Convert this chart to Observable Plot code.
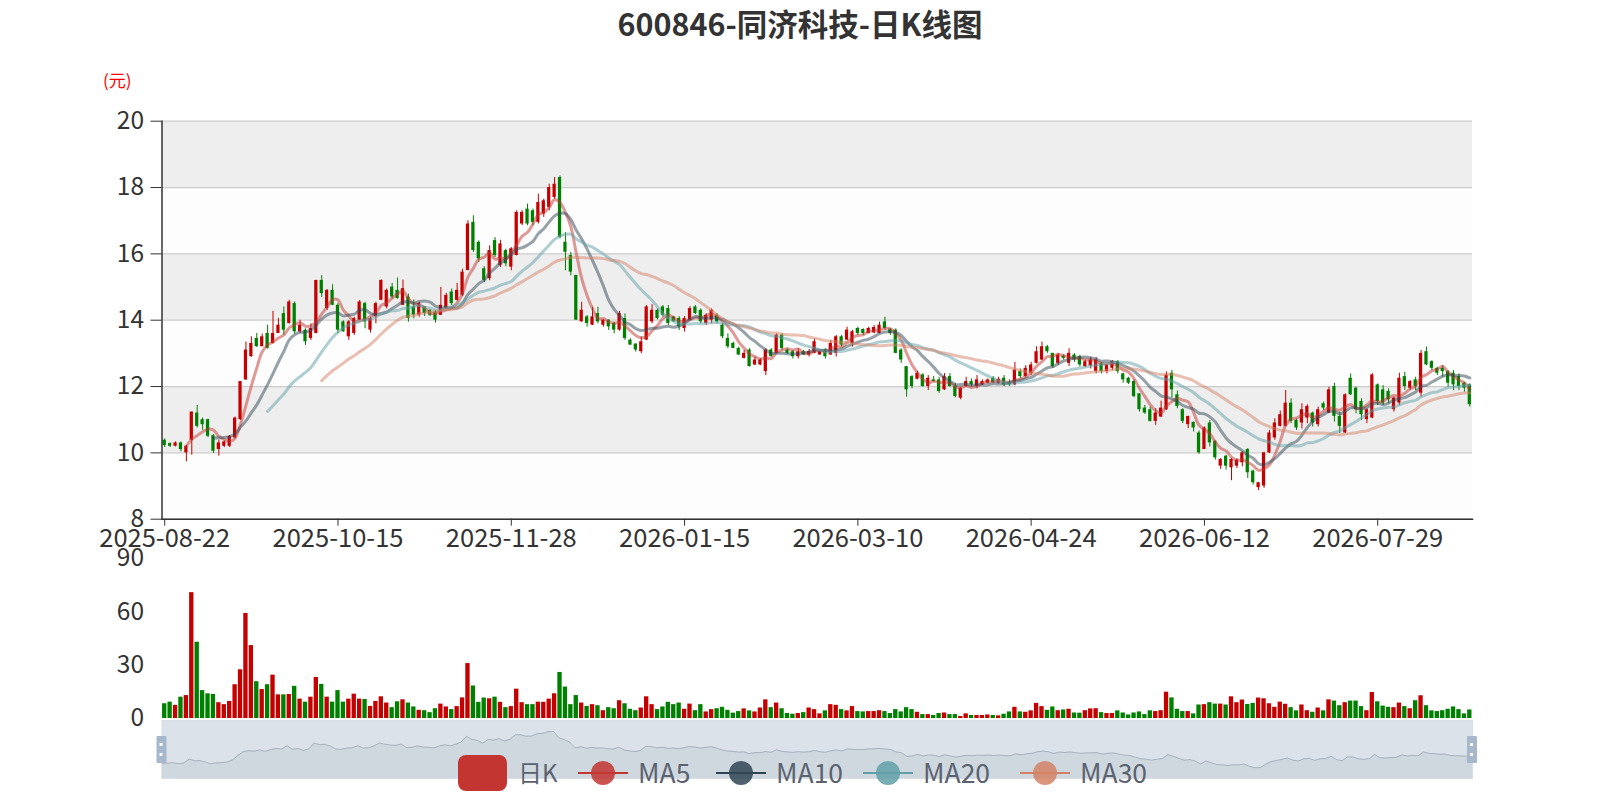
<!DOCTYPE html>
<html><head><meta charset="utf-8">
<script src="https://cdn.jsdelivr.net/npm/d3@7"></script>
<script src="https://cdn.jsdelivr.net/npm/@observablehq/plot@0.6"></script>
<style>
body{margin:0;background:#fff;}
#wrap{position:relative;width:1600px;height:800px;overflow:hidden;font-family:"Noto Sans CJK SC","Noto Sans",sans-serif;}
#wrap > *{position:absolute;}
</style></head><body><div id="wrap"></div>
<script>
const title = "600846-同济科技-日K线图";
const unitLabel = "(元)";
const tickLabels = ["2025-08-22","2025-10-15","2025-11-28","2026-01-15","2026-03-10","2026-04-24","2026-06-12","2026-07-29"];
const tickEvery = 32;
const priceTicks = [8,10,12,14,16,18,20];
const volumeTicks = [0,30,60,90];
const seriesNames = ["日K","MA5","MA10","MA20","MA30"];
const maPeriods = [5,10,20,30];
const maColors = ["#c23531","#2f4554","#61a0a8","#d48265"];

// [open, close, low, high]
const ohlc = [
[10.38,10.22,10.16,10.42],[10.28,10.2,10.16,10.3],[10.2,10.3,10.18,10.33],[10.3,10.1,10.03,10.33],[10.0,10.2,9.73,10.22],
[10.38,11.23,9.93,11.23],[11.2,10.8,10.75,11.43],[11.0,10.85,10.68,11.05],[11.0,10.5,10.46,11.02],[10.52,10.05,9.98,10.55],
[10.1,10.3,9.9,10.38],[10.2,10.33,10.16,10.36],[10.2,10.5,10.16,10.52],[10.45,11.05,10.42,11.08],[11.0,12.15,10.98,12.15],
[12.2,13.1,12.18,13.34],[12.9,13.3,12.88,13.5],[13.45,13.2,13.18,13.6],[13.2,13.5,13.2,13.58],[13.6,13.15,13.13,13.85],
[13.3,13.6,13.28,14.27],[13.6,13.85,13.6,14.05],[14.2,13.7,13.55,14.4],[13.9,14.55,13.88,14.6],[14.5,13.65,13.58,14.55],
[13.65,13.85,13.6,14.0],[13.7,13.35,13.24,13.74],[13.45,13.75,13.39,13.89],[13.6,15.2,13.59,15.2],[15.2,14.8,14.69,15.34],
[14.35,14.9,14.29,14.92],[14.9,14.45,14.44,15.07],[14.45,13.7,13.59,14.5],[13.95,13.65,13.64,13.98],[13.5,13.95,13.39,13.99],
[13.6,14.05,13.54,14.09],[14.0,14.55,13.99,14.59],[14.5,13.95,13.74,14.54],[13.7,14.05,13.61,14.09],[14.1,14.5,13.89,14.54],
[14.6,15.2,14.59,15.21],[14.4,14.9,14.34,14.94],[15.0,14.7,14.64,15.11],[14.9,14.65,14.64,15.27],[14.45,14.95,14.44,15.21],
[14.7,14.05,13.94,14.79],[14.4,14.15,14.04,14.61],[14.15,14.5,14.09,14.54],[14.4,14.2,14.11,14.41],[14.3,14.15,14.11,14.31],
[14.25,14.0,13.91,14.29],[14.15,14.45,14.14,14.99],[14.35,14.75,14.34,14.81],[14.85,14.5,14.44,14.94],[14.6,14.9,14.57,15.11],
[14.75,15.45,14.71,15.54],[15.5,16.9,15.49,17.0],[16.95,16.1,16.04,17.15],[16.35,15.85,15.74,16.39],[15.55,15.2,15.14,15.61],
[15.25,16.1,15.19,16.24],[16.4,15.95,15.89,16.49],[15.65,16.3,15.59,16.41],[16.1,15.7,15.61,16.14],[15.6,16.15,15.49,16.19],
[15.95,17.25,15.94,17.3],[16.9,17.25,16.85,17.3],[17.35,16.9,16.85,17.5],[17.3,16.95,16.85,17.35],[16.95,17.55,16.9,17.8],
[17.2,17.6,17.1,17.65],[17.4,18.0,17.3,18.1],[17.7,18.1,17.65,18.3],[18.3,16.5,16.45,18.35],[16.35,16.05,15.49,16.64],
[15.95,15.45,15.34,16.04],[15.35,14.0,14.0,15.35],[13.95,14.3,13.94,14.54],[14.1,13.9,13.79,14.14],[13.85,14.1,13.84,14.39],
[14.2,13.95,13.89,14.39],[13.85,14.0,13.79,14.01],[14.0,13.8,13.69,14.01],[13.9,13.7,13.59,13.94],[13.7,14.2,13.67,14.27],
[14.05,13.45,13.39,14.19],[13.4,13.25,13.24,13.44],[13.28,13.1,13.04,13.29],[13.05,13.35,12.99,13.49],[13.4,14.4,13.39,14.44],
[13.95,14.3,13.89,14.47],[14.3,14.05,14.01,14.34],[14.4,14.15,14.09,14.44],[14.35,13.9,13.84,14.44],[14.1,13.95,13.94,14.11],
[14.05,13.8,13.69,14.11],[13.75,14.05,13.64,14.11],[14.0,14.35,14.0,14.41],[14.4,14.2,14.17,14.44],[14.3,13.95,13.89,14.34],
[13.9,14.15,13.84,14.19],[14.0,14.3,13.89,14.34],[14.15,13.95,13.89,14.19],[13.85,13.5,13.44,13.89],[13.45,13.2,13.14,13.59],
[13.3,13.15,13.14,13.34],[13.15,12.95,12.94,13.19],[12.85,13.0,12.83,13.09],[13.1,12.6,12.59,13.14],[12.65,12.8,12.63,12.89],
[12.65,12.8,12.63,12.84],[12.45,13.1,12.33,13.14],[13.1,12.9,12.89,13.14],[13.0,13.55,12.99,13.59],[13.55,13.15,13.09,13.59],
[13.1,13.0,12.97,13.14],[13.05,12.9,12.83,13.09],[12.9,13.05,12.83,13.14],[13.05,12.95,12.94,13.09],[12.95,13.05,12.89,13.11],
[13.0,13.35,12.99,13.44],[12.95,13.05,12.94,13.09],[13.1,12.9,12.83,13.14],[12.95,13.3,12.94,13.39],[13.0,13.5,12.89,13.54],
[13.5,13.25,13.19,13.54],[13.4,13.7,13.39,13.79],[13.3,13.65,13.19,13.69],[13.75,13.6,13.54,13.79],[13.72,13.6,13.54,13.74],
[13.6,13.75,13.59,13.79],[13.62,13.78,13.59,13.84],[13.6,13.85,13.59,13.94],[13.95,13.75,13.71,14.09],[13.73,13.6,13.54,13.74],
[13.7,13.0,12.99,13.74],[13.1,12.8,12.7,13.14],[12.6,11.9,11.68,12.6],[12.3,12.0,11.93,12.33],[12.22,12.4,12.2,12.46],
[12.35,12.0,11.98,12.39],[12.0,12.25,11.88,12.33],[12.2,12.15,12.13,12.3],[12.2,11.85,11.8,12.28],[11.9,12.3,11.88,12.39],
[12.3,12.0,11.98,12.39],[12.0,11.7,11.66,12.1],[11.65,11.95,11.6,11.98],[12.0,12.15,11.98,12.28],[12.15,12.05,11.98,12.23],
[12.0,12.2,11.93,12.33],[12.05,12.15,12.03,12.2],[12.1,12.2,12.08,12.23],[12.25,12.12,12.1,12.3],[12.1,12.22,12.07,12.28],
[12.25,12.05,12.0,12.33],[12.12,12.05,12.0,12.2],[12.05,12.5,12.03,12.73],[12.45,12.3,12.23,12.53],[12.3,12.55,12.28,12.63],
[12.4,12.65,12.33,12.73],[12.7,13.05,12.68,13.2],[12.8,13.2,12.78,13.34],[13.2,13.05,13.0,13.24],[13.0,12.6,12.54,13.0],
[12.7,12.95,12.63,13.0],[12.92,12.85,12.8,12.95],[12.7,13.0,12.6,13.14],[12.95,12.8,12.73,12.99],[12.9,12.65,12.59,12.94],
[12.6,12.75,12.57,12.8],[12.62,12.8,12.53,12.88],[12.45,12.8,12.38,12.88],[12.7,12.45,12.38,12.72],[12.45,12.65,12.38,12.66],
[12.55,12.75,12.48,12.78],[12.75,12.45,12.38,12.78],[12.38,12.2,12.1,12.4],[12.25,12.1,12.06,12.28],[12.15,11.7,11.66,12.2],
[11.78,11.3,11.23,11.78],[11.35,11.2,11.16,11.43],[11.3,10.95,10.93,11.38],[10.95,11.2,10.83,11.33],[11.08,11.35,11.06,11.56],
[11.3,12.35,11.28,12.44],[12.4,11.9,11.66,12.49],[11.75,11.4,11.33,11.86],[11.3,10.95,10.88,11.33],[10.85,11.1,10.73,11.1],
[10.92,10.75,10.63,10.93],[10.6,10.0,9.96,10.66],[10.1,10.75,10.1,10.78],[10.9,10.3,10.18,10.98],[10.35,9.85,9.78,10.36],
[9.6,9.8,9.5,9.83],[9.9,9.6,9.48,9.93],[9.55,9.8,9.16,9.83],[9.6,9.78,9.53,9.83],[9.7,10.0,9.58,10.03],
[10.1,9.4,9.23,10.13],[9.45,9.1,9.03,9.48],[8.95,9.1,8.86,9.1],[9.0,10.0,8.93,10.02],[10.0,10.6,9.98,10.68],
[10.45,10.9,10.38,11.03],[10.8,11.15,10.78,11.26],[10.8,11.5,10.78,11.88],[11.5,10.95,10.88,11.63],[10.98,10.75,10.68,11.02],
[10.9,11.3,10.72,11.48],[11.05,11.4,10.88,11.45],[11.2,10.9,10.78,11.23],[10.85,11.3,10.78,11.38],[11.48,11.35,11.28,11.53],
[11.2,11.9,11.18,11.98],[12.0,11.1,10.93,12.1],[11.1,10.8,10.58,11.23],[10.6,11.75,10.58,11.78],[12.25,11.75,11.73,12.38],
[11.95,11.3,11.18,11.98],[11.55,11.15,10.98,11.63],[11.0,11.3,10.88,11.33],[11.05,12.35,11.03,12.39],[12.05,11.55,11.43,12.08],
[11.9,11.5,11.43,12.03],[11.85,11.6,11.48,11.93],[11.3,11.65,11.23,11.68],[11.5,12.25,11.43,12.4],[12.3,12.0,11.88,12.43],
[11.95,12.15,11.88,12.18],[12.2,12.0,11.88,12.28],[11.8,13.0,11.68,13.09],[13.05,12.65,12.63,13.19],[12.75,12.55,12.48,12.78],
[12.55,12.4,12.33,12.58],[12.55,12.45,12.28,12.63],[12.45,12.1,11.98,12.48],[12.4,12.05,11.88,12.48],[12.3,12.0,11.88,12.38],
[12.1,11.95,11.83,12.13],[12.05,11.45,11.38,12.08]
];

const volume = [
8.3,9.2,7.4,12.0,12.9,70.8,42.9,15.7,13.9,13.5,
8.9,7.8,9.6,19.0,27.4,59.1,41.0,20.7,16.3,19.0,
24.4,13.3,13.3,13.5,18.1,10.9,9.2,12.0,23.1,19.2,
12.0,9.2,15.7,9.2,10.9,13.7,10.9,10.7,6.8,9.6,
12.2,8.7,6.1,9.4,10.5,8.7,6.5,4.6,4.4,3.3,
5.5,8.1,6.5,5.0,6.7,11.6,30.9,18.3,9.1,11.5,
11.1,12.0,9.1,6.1,6.7,16.5,8.9,7.8,7.8,9.2,
9.1,10.9,13.9,25.9,17.7,7.8,12.9,8.7,6.8,7.8,
7.2,4.4,6.1,5.5,10.0,8.3,5.2,4.4,5.9,12.2,
7.8,5.0,6.5,9.1,7.8,8.7,5.2,8.1,4.4,7.8,
3.7,5.0,5.5,6.3,4.6,3.0,3.9,5.4,4.3,3.7,
5.9,10.5,6.1,8.7,5.5,2.8,2.4,2.8,3.3,5.9,
5.0,2.6,4.3,7.8,7.4,5.0,4.3,6.7,3.9,3.7,
3.9,3.9,4.4,3.9,2.8,5.0,3.7,6.1,5.0,3.5,
2.2,2.2,1.7,2.8,3.1,2.2,2.2,1.1,2.6,1.7,
1.7,1.7,2.0,1.7,1.5,2.4,3.7,6.3,3.7,3.5,
4.3,8.5,6.7,4.6,6.5,4.4,4.8,5.2,3.1,3.0,
4.4,5.4,5.5,3.3,2.8,2.8,4.3,3.1,2.0,3.1,
3.7,2.2,4.3,3.9,4.4,14.8,11.6,5.2,3.9,3.9,
2.6,7.6,7.8,8.9,8.1,8.1,7.6,12.2,8.9,10.4,
7.9,8.5,11.5,11.1,8.3,6.3,9.2,8.0,6.1,4.3,
7.6,4.4,3.5,5.9,4.3,10.5,9.8,7.2,8.9,9.8,
9.8,6.7,4.4,14.6,9.4,7.0,6.3,6.1,8.7,6.7,
5.5,10.0,12.8,7.2,4.3,3.9,4.4,5.2,6.5,5.0,
2.6,4.8
];

const upColor = "#c40000", downColor = "#008000";
const font = '"Noto Sans CJK SC","Noto Sans",sans-serif';
const W = 1600, L = 161.5, R = 128;

const rows = ohlc.map(([o, c, l, h], i) => ({i, o, c, l, h, v: volume[i], up: c >= o}));
const N = rows.length;
const idx = d3.range(N);
const tickIdx = tickLabels.map((_, k) => k * tickEvery);
const maSeries = maPeriods.map(p => rows.slice(p - 1).map(r => ({i: r.i, v: d3.mean(rows.slice(r.i - p + 1, r.i + 1), d => d.c)})));
const bandPairs = priceTicks.slice(0, -1).map((t, k) => ({y1: t, y2: priceTicks[k + 1], odd: k % 2 === 1}));

const wrap = document.getElementById("wrap");

// title
const t = document.createElement("div");
t.textContent = title;
Object.assign(t.style, {left: "0px", top: "1px", width: "1600px", textAlign: "center", fontSize: "30.5px", fontWeight: "bold", color: "#333"});
wrap.appendChild(t);
const u = document.createElement("div");
u.textContent = unitLabel;
Object.assign(u.style, {left: "103px", top: "67px", fontSize: "17px", color: "#ff0000"});
wrap.appendChild(u);

// main candlestick chart
const main = Plot.plot({
  width: W, height: 560, marginLeft: L, marginRight: R, marginTop: 120.7, marginBottom: 41.3,
  style: {fontFamily: font, fontSize: "24px", color: "#333", background: "transparent", overflow: "visible"},
  x: {type: "band", domain: idx, paddingInner: 0.4, paddingOuter: 0.2},
  y: {domain: [8, 20]},
  marks: [
    Plot.rect(bandPairs, {y1: "y1", y2: "y2", fill: d => d.odd ? "#eeeeee" : "#fdfdfd"}),
    Plot.ruleY(priceTicks, {stroke: "#cccccc", strokeWidth: 1.2}),
    Plot.ruleX(rows, {x: "i", y1: "l", y2: "h", stroke: d => d.up ? upColor : downColor, strokeWidth: 1}),
    Plot.barY(rows, {x: "i", y1: "o", y2: "c", fill: d => d.up ? upColor : downColor}),
    ...maSeries.map((s, k) => Plot.line(s, {x: "i", y: "v", stroke: maColors[k], strokeWidth: 3, strokeOpacity: 0.5, curve: "catmull-rom"})),
    Plot.axisY({ticks: priceTicks, tickSize: 11, tickPadding: 7, fontSize: 24.5, stroke: "#333", label: null}),
    Plot.axisX({ticks: tickIdx, tickFormat: d => tickLabels[d / tickEvery], tickSize: 7, tickPadding: 3, fontSize: 25.5, stroke: "#333", label: null}),
    Plot.frame({anchor: "left", stroke: "#333", strokeWidth: 1.5}),
    Plot.frame({anchor: "bottom", stroke: "#333", strokeWidth: 1.5})
  ]
});
main.style.left = "0px"; main.style.top = "0px";
wrap.appendChild(main);

// volume chart
const vol = Plot.plot({
  width: W, height: 180, marginLeft: L, marginRight: R, marginTop: 18, marginBottom: 2,
  style: {fontFamily: font, fontSize: "24px", color: "#333", background: "transparent", overflow: "visible"},
  x: {type: "band", domain: idx, paddingInner: 0.2, paddingOuter: 0.1, axis: null},
  y: {domain: [0, 90]},
  marks: [
    Plot.barY(rows, {x: "i", y: "v", fill: d => d.up ? upColor : downColor}),
    Plot.axisY({ticks: volumeTicks, tickSize: 0, tickPadding: 18, fontSize: 24.5, label: null})
  ]
});
vol.style.left = "0px"; vol.style.top = "540px";
wrap.appendChild(vol);

// data zoom slider
const closeExtent = d3.extent(rows, d => d.c);
const pad = (closeExtent[1] - closeExtent[0]) * 0.3;
const slider = Plot.plot({
  width: W, height: 60, marginLeft: L, marginRight: R, marginTop: 0, marginBottom: 2,
  style: {background: "transparent", overflow: "visible"},
  x: {domain: [0, N - 1], axis: null},
  y: {domain: [closeExtent[0] - pad, closeExtent[1] + pad], axis: null},
  marks: [
    Plot.frame({fill: "rgba(167,183,203,0.4)", stroke: "#d8dde6"}),
    Plot.areaY(rows, {x: "i", y1: closeExtent[0] - pad, y2: "c", fill: "#2f4554", fillOpacity: 0.07}),
    Plot.lineY(rows, {x: "i", y: "c", stroke: "#2f4554", strokeOpacity: 0.25, strokeWidth: 1})
  ]
});
slider.style.left = "0px"; slider.style.top = "720px";
wrap.appendChild(slider);
const ss = d3.select(slider);
[L, W - R].forEach(xh => {
  ss.append("rect").attr("x", xh - 5).attr("y", 16).attr("width", 10).attr("height", 27).attr("rx", 1).attr("fill", "#a7b7cc");
  ss.append("rect").attr("x", xh - 2).attr("y", 23).attr("width", 3).attr("height", 3).attr("fill", "#fff");
  ss.append("rect").attr("x", xh - 2).attr("y", 33).attr("width", 3).attr("height", 3).attr("fill", "#fff");
});

// legend
const lg = d3.select(wrap).append("svg").attr("width", 1600).attr("height", 60)
  .style("left", "0px").style("top", "745px").style("font-family", font);
const legendX = [458, 578, 716, 863, 1020];
const legendColors = [upColor, ...maColors];
seriesNames.forEach((name, k) => {
  const x0 = legendX[k], cy = 28;
  if (k === 0) {
    lg.append("rect").attr("x", x0).attr("y", cy - 18).attr("width", 49).attr("height", 36).attr("rx", 8).attr("fill", "#c23531");
  } else {
    lg.append("line").attr("x1", x0).attr("x2", x0 + 50).attr("y1", cy).attr("y2", cy).attr("stroke", legendColors[k]).attr("stroke-width", 2);
    lg.append("circle").attr("cx", x0 + 25).attr("cy", cy).attr("r", 12).attr("fill", legendColors[k]).attr("fill-opacity", 0.85);
  }
  lg.append("text").attr("x", x0 + 60).attr("y", cy).attr("dy", "0.36em").attr("font-size", k === 0 ? 24 : 26.5).attr("fill", "#5b6270").text(name);
});
</script>
</body></html>
